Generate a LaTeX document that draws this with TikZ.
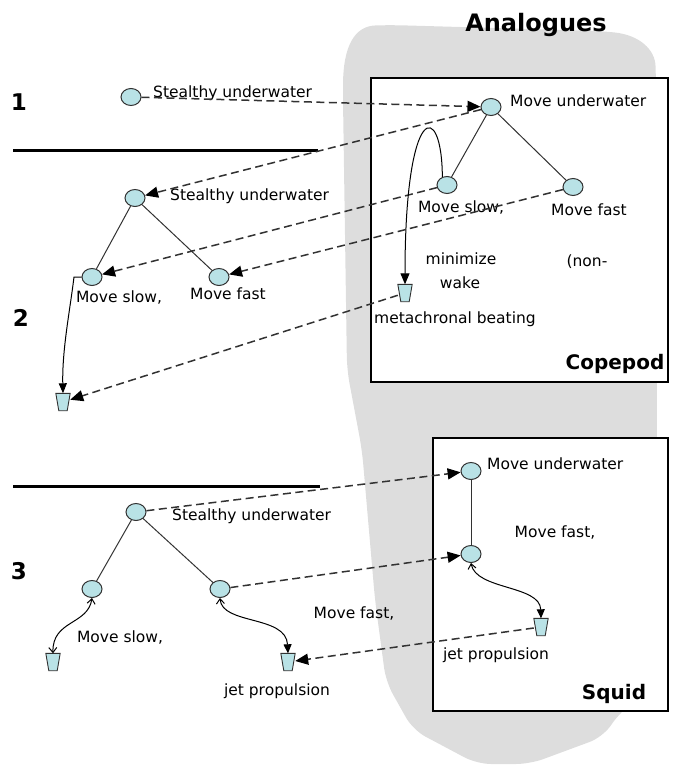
\documentclass[tikz,border=0pt]{standalone}
\usepackage{fontspec}
\setmainfont{DejaVu Sans}
\usetikzlibrary{arrows.meta,shapes.geometric}
\definecolor{nodefill}{RGB}{185,226,230}
\definecolor{edgec}{RGB}{50,50,50}
\definecolor{blob}{RGB}{221,221,221}
\begin{document}
\begin{tikzpicture}[x=1pt,y=-1pt,
  nd/.style={ellipse,draw=edgec,fill=nodefill,line width=1pt,minimum width=20pt,minimum height=17pt,inner sep=0pt},
  cup/.style={rectangle,minimum width=14pt,minimum height=17pt,inner sep=0pt},
  cupshape/.style={draw=edgec,fill=nodefill,line width=0.9pt,line join=miter},
  lbl/.style={font=\fontsize{15.5}{18}\selectfont,inner sep=0pt,text=black},
  big/.style={font=\fontsize{#1}{#1}\selectfont\bfseries,inner sep=0pt,text=black},
  dsh/.style={draw=edgec,line width=1.5pt,dash pattern=on 8pt off 4.5pt,-{Triangle[length=13pt,width=11pt,color=black]}},
  tree/.style={draw=edgec,line width=1pt},
  crv/.style={draw=black,line width=1pt},
  box/.style={draw=black,line width=1.3pt,fill=white},
  sep/.style={draw=black,line width=3pt}
]
\useasboundingbox (0,0) rectangle (673,765);
% grey analogue region
\fill[blob,rounded corners=14pt] (343,100) .. controls (343,45) and (355,26) .. (390,25) -- (600,31) .. controls (640,35) and (655,50) .. (656,80) -- (657,430) -- (650,690) -- (620,712) -- (603,737) -- (530,764) -- (477,764) -- (413,730) -- (386,682) -- (375,600) -- (362,450) -- (347,370) -- cycle;
% boxes
\draw[box] (371,78) rectangle (668,382);
\draw[box] (433,438) rectangle (668,711);
% separators
\draw[sep] (13,150) -- (318,150);
\draw[sep] (13,486) -- (320,486);
% titles
\node[big=24] (ttl) at (536,25) {Analogues};
\node[big=20] (cop) at (615,364) {Copepod};
\node[big=20] (sq) at (614,694) {Squid};
\node[big=23] (k1) at (19,102) {1};
\node[big=23] (k2) at (21,318) {2};
\node[big=23] (k3) at (19,571) {3};
% nodes
\node[nd] (n1) at (131,97) {};
\node[nd] (cTop) at (491,107) {};
\node[nd] (cSlow) at (447,185) {};
\node[nd] (cFast) at (573,187) {};
\node[cup] (cCup) at (405,293) {};
\node[nd] (aTop) at (135,198) {};
\node[nd] (aSlow) at (92,277) {};
\node[nd] (aFast) at (219,277) {};
\node[cup] (aCup) at (63,402) {};
\node[nd] (bTop) at (136,512) {};
\node[nd] (bSlow) at (92,589) {};
\node[nd] (bFast) at (220,589) {};
\node[cup] (bCupS) at (53,662) {};
\node[cup] (bCupF) at (288,662) {};
\node[nd] (qTop) at (471,471) {};
\node[nd] (qMid) at (471,554) {};
\node[cup] (qCup) at (541,627) {};
\foreach \c in {cCup,aCup,bCupS,bCupF,qCup}
  \filldraw[cupshape] (\c.north west) -- (\c.north east) -- ([xshift=-3pt]\c.south east) -- ([xshift=3pt]\c.south west) -- cycle;
% labels
\node[lbl,anchor=west] (t1) at (153,93) {Stealthy underwater};
\node[lbl,anchor=west] (t2) at (170,196) {Stealthy underwater};
\node[lbl] (t3) at (119,298) {Move slow,};
\node[lbl] (t4) at (228,294) {Move fast};
\node[lbl,anchor=west] (t5) at (510,101) {Move underwater};
\node[lbl] (t6) at (461,208) {Move slow,};
\node[lbl] (t7) at (589,210) {Move fast};
\node[lbl] (t8) at (461,259) {minimize};
\node[lbl] (t9) at (460,283) {wake};
\node[lbl] (t10) at (587,262) {(non-};
\node[lbl] (t11) at (455,319) {metachronal beating};
\node[lbl,anchor=west] (t12) at (172,516) {Stealthy underwater};
\node[lbl] (t13) at (120,638) {Move slow,};
\node[lbl] (t14) at (354,614) {Move fast,};
\node[lbl] (t15) at (277,691) {jet propulsion};
\node[lbl,anchor=west] (t16) at (487,464) {Move underwater};
\node[lbl] (t17) at (555,533) {Move fast,};
\node[lbl] (t18) at (496,655) {jet propulsion};
% tree edges
\draw[tree] (aTop) -- (aSlow);
\draw[tree] (aTop) -- (aFast);
\draw[tree] (cTop) -- (cSlow);
\draw[tree] (cTop) -- (cFast);
\draw[tree] (bTop) -- (bSlow);
\draw[tree] (bTop) -- (bFast);
\draw[tree] (qTop) -- (qMid);
% dashed analogy links
\draw[dsh] (n1) -- (cTop);
\draw[dsh] (cTop) -- (aTop);
\draw[dsh] (cSlow) -- (aSlow);
\draw[dsh] (cFast) -- (aFast);
\draw[dsh] (cCup) -- (aCup);
\draw[dsh] (bTop) -- (qTop);
\draw[dsh] (bFast) -- (qMid);
\draw[dsh] (qCup) -- (bCupF);
% solution curves
\draw[crv,-{Triangle[length=11pt,width=9pt]}] (cSlow.120) .. controls (442,100) and (405,100) .. (cCup.north);
\draw[crv,-{Triangle[length=10pt,width=8pt]}] (aSlow.west) -- (74,277) .. controls (70,310) and (62,350) .. (aCup.north);
\draw[crv,{Straight Barb[length=5pt,width=8pt]}-{Straight Barb[length=5pt,width=8pt]}] (bSlow.south) .. controls (88,625) and (52,620) .. (bCupS.north);
\draw[crv,{Straight Barb[length=5pt,width=8pt]}-{Triangle[length=9pt,width=8pt]}] (bFast.south) .. controls (222,625) and (286,615) .. (bCupF.north);
\draw[crv,{Straight Barb[length=5pt,width=8pt]}-{Triangle[length=9pt,width=8pt]}] (qMid.south) .. controls (476,590) and (540,585) .. (qCup.north);
\end{tikzpicture}
\end{document}
